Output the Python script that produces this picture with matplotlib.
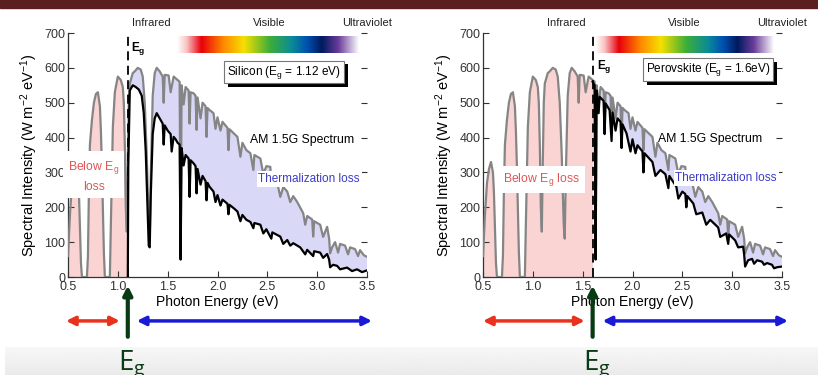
import matplotlib
matplotlib.use("Agg")
import matplotlib.pyplot as plt
import numpy as np
from matplotlib.colors import LinearSegmentedColormap
from matplotlib import patheffects as pe
from matplotlib.patches import Rectangle

plt.rcParams['font.family'] = ['Liberation Sans', 'DejaVu Sans']
plt.rcParams['mathtext.fontset'] = 'custom'
plt.rcParams['mathtext.rm'] = 'Liberation Sans'
plt.rcParams['mathtext.it'] = 'Liberation Sans:italic'
plt.rcParams['mathtext.bf'] = 'Liberation Sans:bold'

# AM 1.5G spectrum (gray curve), photon energy in eV vs W m^-2 eV^-1
am15_e = [0.50, 0.52, 0.54, 0.56, 0.58, 0.60, 0.61, 0.62, 0.63, 0.64, 0.69, 0.70,
          0.71, 0.72, 0.74, 0.76, 0.78, 0.80, 0.82, 0.83, 0.84, 0.85, 0.86, 0.87,
          0.92, 0.93, 0.95, 0.97, 1.00, 1.03, 1.05, 1.06, 1.07, 1.08, 1.09, 1.10,
          1.11, 1.12, 1.15, 1.17, 1.20, 1.23, 1.25, 1.27, 1.29, 1.31, 1.32, 1.33,
          1.35, 1.37, 1.39, 1.42, 1.45, 1.46, 1.47, 1.51, 1.53, 1.56, 1.58, 1.60,
          1.62, 1.63, 1.64, 1.66, 1.68, 1.71, 1.72, 1.73, 1.76, 1.78, 1.79, 1.80,
          1.83, 1.85, 1.88, 1.89, 1.90, 1.92, 1.96, 1.98, 2.00, 2.03, 2.05, 2.10,
          2.11, 2.12, 2.16, 2.20, 2.23, 2.25, 2.29, 2.33, 2.36, 2.37, 2.43, 2.46,
          2.49, 2.53, 2.54, 2.55, 2.56, 2.60, 2.63, 2.66, 2.70, 2.73, 2.76, 2.80,
          2.86, 2.88, 2.90, 2.95, 2.96, 2.97, 3.03, 3.06, 3.10, 3.12, 3.13, 3.15,
          3.18, 3.21, 3.23, 3.28, 3.31, 3.33, 3.38, 3.41, 3.43, 3.47, 3.50]
am15_i = [60, 180, 270, 310, 330, 300, 240, 140, 40, 0, 0, 60,
          250, 380, 450, 500, 525, 530, 490, 420, 320, 200, 70, 0,
          0, 150, 430, 530, 575, 565, 545, 500, 380, 200, 130, 330,
          500, 555, 585, 590, 600, 595, 575, 500, 350, 150, 110, 280,
          520, 585, 600, 590, 575, 500, 580, 578, 530, 575, 570, 565,
          560, 70, 550, 495, 545, 535, 440, 530, 527, 520, 422, 515,
          455, 500, 490, 402, 485, 479, 470, 425, 458, 420, 445, 428,
          364, 424, 413, 402, 345, 385, 364, 355, 307, 350, 340, 295,
          318, 316, 270, 300, 285, 270, 230, 258, 245, 215, 232, 215,
          183, 150, 175, 165, 116, 160, 150, 115, 144, 110, 68, 85,
          100, 70, 95, 90, 65, 85, 80, 60, 77, 62, 58]

# usable part for silicon (black curve, left)
si_e = [1.100, 1.105, 1.12, 1.15, 1.18, 1.21, 1.24, 1.26, 1.28, 1.30, 1.31, 1.32,
        1.33, 1.35, 1.37, 1.39, 1.42, 1.45, 1.46, 1.47, 1.50, 1.53, 1.54, 1.56,
        1.58, 1.60, 1.62, 1.63, 1.64, 1.66, 1.68, 1.71, 1.72, 1.73, 1.76, 1.78,
        1.79, 1.80, 1.83, 1.85, 1.88, 1.89, 1.90, 1.92, 1.96, 1.98, 2.00, 2.03,
        2.05, 2.10, 2.11, 2.12, 2.16, 2.20, 2.23, 2.25, 2.29, 2.33, 2.36, 2.37,
        2.43, 2.46, 2.49, 2.54, 2.55, 2.63, 2.66, 2.70, 2.73, 2.76, 2.83, 2.88,
        2.90, 2.96, 2.97, 3.03, 3.06, 3.10, 3.12, 3.13, 3.16, 3.20, 3.23, 3.30,
        3.35, 3.40, 3.45, 3.50]
si_i = [0, 320, 535, 550, 545, 538, 520, 470, 360, 180, 90, 85,
        230, 410, 455, 470, 455, 440, 380, 435, 420, 410, 360, 402,
        395, 385, 380, 50, 370, 320, 350, 340, 230, 335, 326, 318,
        240, 310, 265, 290, 275, 220, 270, 259, 245, 215, 235, 205,
        222, 210, 180, 207, 198, 188, 160, 178, 164, 158, 140, 155,
        150, 125, 137, 110, 128, 116, 95, 106, 90, 97, 85, 65,
        78, 60, 74, 70, 55, 66, 50, 28, 35, 32, 22, 27,
        17, 22, 14, 19]

# usable part for perovskite (black curve, right)
pv_e = [1.60, 1.62, 1.63, 1.64, 1.66, 1.67, 1.71, 1.72, 1.73, 1.77, 1.79, 1.80,
        1.83, 1.85, 1.88, 1.89, 1.90, 1.94, 1.98, 2.00, 2.03, 2.05, 2.10, 2.11,
        2.12, 2.20, 2.23, 2.28, 2.33, 2.36, 2.37, 2.44, 2.46, 2.50, 2.53, 2.54,
        2.55, 2.61, 2.64, 2.70, 2.74, 2.78, 2.86, 2.88, 2.94, 2.96, 2.97, 3.03,
        3.06, 3.11, 3.12, 3.13, 3.16, 3.20, 3.22, 3.25, 3.30, 3.32, 3.35, 3.40,
        3.42, 3.45, 3.50]
pv_i = [560, 550, 50, 535, 470, 517, 505, 410, 498, 479, 390, 472,
        420, 455, 445, 370, 438, 412, 360, 395, 355, 378, 360, 300,
        355, 330, 290, 307, 295, 255, 290, 259, 225, 245, 238, 200,
        232, 211, 180, 185, 150, 164, 142, 115, 125, 95, 122, 105,
        85, 87, 65, 30, 48, 52, 38, 48, 44, 35, 40, 35,
        25, 28, 30]

panels = [
    dict(eg=1.10, be=si_e, bi=si_i, box='Silicon (E$_\\mathregular{g}$ = 1.12 eV)',
         box_xy=(2.67, 588), eg_xy=(1.13, 650),
         below='Below E$_\\mathregular{g}$\nloss', below_xy=(0.76, 290),
         therm_xy=(2.92, 281), am_xy=(2.85, 393),
         red=(0.48, 1.02), blue=(1.19, 3.55), bar=(1.59, 3.45)),
    dict(eg=1.60, be=pv_e, bi=pv_i, box='Perovskite (E$_\\mathregular{g}$ = 1.6eV)',
         box_xy=(2.76, 594), eg_xy=(1.64, 597),
         below='Below E$_\\mathregular{g}$ loss', below_xy=(1.09, 280),
         therm_xy=(2.94, 284), am_xy=(2.78, 396),
         red=(0.50, 1.52), blue=(1.70, 3.56), bar=(1.62, 3.45)),
]

rainbow = LinearSegmentedColormap.from_list('spec', [
    (0.0, '#ffffff'), (0.05, '#f9c4c4'), (0.13, '#e8000b'), (0.25, '#ff8a00'),
    (0.36, '#f5e000'), (0.50, '#3cae3a'), (0.62, '#0a8a9a'), (0.70, '#0050b0'),
    (0.78, '#001a5e'), (0.87, '#6a3d9a'), (0.98, '#ffffff'), (1.0, '#ffffff')])

fig = plt.figure(figsize=(8.18, 3.75), dpi=100)
fig.patch.set_facecolor('white')

# grey strip at the bottom and dark band at the top
bg = fig.add_axes([0.006, 0, 0.994, 0.075])
bg.imshow(np.linspace(0.97, 0.92, 20).reshape(-1, 1), cmap='gray', vmin=0, vmax=1,
          aspect='auto', extent=[0, 1, 0, 1])
bg.set_axis_off()
bg.set_zorder(-5)
fig.add_artist(Rectangle((0, 1 - 8 / 375), 1, 8 / 375, transform=fig.transFigure,
                         color='#5b1f1f', zorder=10))

lefts = [68 / 818, 483 / 818]
for left, p in zip(lefts, panels):
    ax = fig.add_axes([left, 1 - 277 / 375, 299 / 818, 244 / 375])
    e = np.array(am15_e)
    g = np.array(am15_i)
    eg = p['eg']

    below = e <= eg
    ax.fill_between(e[below], 0, g[below], color='#fad4d2', lw=0, zorder=1)
    above = e >= eg
    poly_x = list(e[above]) + list(p['be'])[::-1]
    poly_y = list(g[above]) + list(p['bi'])[::-1]
    ax.fill(poly_x, poly_y, color='#d9d9f7', lw=0, zorder=1)

    ax.plot(am15_e, am15_i, color='#858585', lw=1.6, zorder=3)
    ax.plot(p['be'], p['bi'], color='black', lw=1.6, zorder=4)
    ax.plot([eg, eg], [0, 700], color='black', lw=1.3, ls=(0, (5, 3)), zorder=5)

    # spectrum colour bar
    b0, b1 = p['bar']
    ax.imshow(np.linspace(0, 1, 256).reshape(1, -1), cmap=rainbow, aspect='auto',
              extent=[b0, b1, 643, 690], zorder=2)

    ax.text(p['eg_xy'][0], p['eg_xy'][1], 'E$_\\mathregular{g}$', fontsize=8.5,
            fontweight='bold', zorder=6)
    t = ax.text(p['box_xy'][0], p['box_xy'][1], p['box'], fontsize=8.5, ha='center',
                va='center', zorder=6,
                bbox=dict(boxstyle='square,pad=0.25', fc='white', ec='#777777', lw=0.8))
    t.get_bbox_patch().set_path_effects([pe.withSimplePatchShadow(
        offset=(2.5, -2.5), shadow_rgbFace='black', alpha=1)])
    ax.text(p['am_xy'][0], p['am_xy'][1], 'AM 1.5G Spectrum', fontsize=8.8,
            ha='center', va='center', zorder=6)
    ax.text(p['therm_xy'][0], p['therm_xy'][1], 'Thermalization loss', fontsize=8.5,
            color='#3b3bc8', ha='center', va='center', zorder=6,
            bbox=dict(boxstyle='square,pad=0.15', fc='white', ec='none'))
    ax.text(p['below_xy'][0], p['below_xy'][1], p['below'], fontsize=8.8,
            color='#e05555', ha='center', va='center', linespacing=1.5, zorder=6,
            bbox=dict(boxstyle='square,pad=0.4', fc='white', ec='none'))

    ax.text(1.34, 730, 'Infrared', fontsize=8, ha='center', va='center', color='#222222')
    ax.text(2.52, 730, 'Visible', fontsize=8, ha='center', va='center', color='#222222')
    ax.text(3.50, 730, 'Ultraviolet', fontsize=8, ha='center', va='center', color='#222222')

    ax.set_xlim(0.5, 3.5)
    ax.set_ylim(0, 700)
    ax.set_xticks(np.arange(0.5, 3.51, 0.5))
    ax.set_xticklabels(['0.5', '1.0', '1.5', '2.0', '2.5', '3.0', '3.5'])
    ax.set_yticks(range(0, 701, 100))
    ax.tick_params(axis='both', labelsize=9, colors='#333333', direction='in',
                   length=4, width=0.8, pad=2)
    ax.tick_params(axis='x', pad=3)
    ax.tick_params(axis='y', right=True, which='both')
    ax.spines['top'].set_visible(False)
    ax.spines['right'].set_visible(False)
    for s in ['left', 'bottom']:
        ax.spines[s].set_linewidth(0.9)
        ax.spines[s].set_color('#333333')
    ax.set_xlabel('Photon Energy (eV)', fontsize=10, labelpad=1)
    ax.set_ylabel('Spectral Intensity (W m$^{\\mathregular{-2}}$ eV$^{\\mathregular{-1}}$)',
                  fontsize=10.5, labelpad=3)

    # arrows and E_g label under the panel
    tr = ax.get_xaxis_transform()
    ax.annotate('', xy=(p['red'][1], -0.18), xytext=(p['red'][0], -0.18),
                xycoords=tr, textcoords=tr, annotation_clip=False,
                arrowprops=dict(arrowstyle='<|-|>', color='#e8321e', lw=2.5,
                                mutation_scale=13, shrinkA=0, shrinkB=0))
    ax.annotate('', xy=(p['blue'][1], -0.18), xytext=(p['blue'][0], -0.18),
                xycoords=tr, textcoords=tr, annotation_clip=False,
                arrowprops=dict(arrowstyle='<|-|>', color='#1a1ad6', lw=2.5,
                                mutation_scale=13, shrinkA=0, shrinkB=0))
    ax.annotate('', xy=(eg, -0.035), xytext=(eg, -0.245),
                xycoords=tr, textcoords=tr, annotation_clip=False,
                arrowprops=dict(arrowstyle='-|>', color='#0a3a14', lw=3,
                                mutation_scale=13, shrinkA=0, shrinkB=0))
    ax.text(eg + 0.04, -0.38, 'E$_\\mathregular{g}$', transform=tr, fontsize=20,
            family='Open Sans', color='#0a3a14', ha='center', va='baseline',
            clip_on=False)

fig.savefig('out.png', dpi=100, facecolor='white')
